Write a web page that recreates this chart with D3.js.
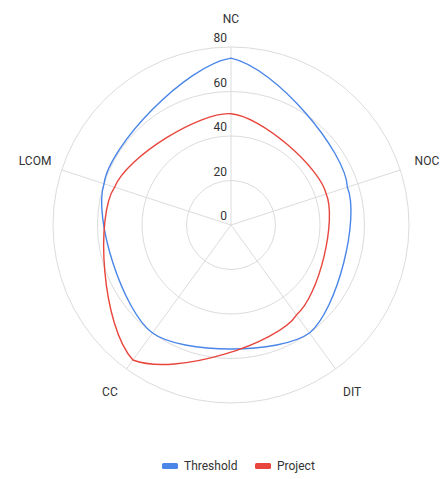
<!DOCTYPE html>
<html>
<head>
<meta charset="utf-8">
<script src="https://cdn.jsdelivr.net/npm/d3@7"></script>
<style>
  html, body { margin: 0; padding: 0; background: #fff; }
  svg { display: block; font-family: Roboto, "Noto Sans", Arial, sans-serif; }
</style>
</head>
<body>
<svg id="chart" width="444" height="479"></svg>
<script>
const axes = ["NC", "NOC", "DIT", "CC", "LCOM"];
const thresholdValues = [75, 55, 60, 60, 60];
const projectValues = [50, 45, 50, 75, 55];
const seriesNames = ["Threshold", "Project"];
const seriesColors = ["#4a86e8", "#e8453c"];
const tickValues = [0, 20, 40, 60, 80];

const W = 444, H = 479;
const cx = 231, cy = 225, R = 178;
const svg = d3.select("#chart");
const g = svg.append("g").attr("transform", `translate(${cx},${cy})`);

const r = d3.scaleLinear().domain([0, 80]).range([0, R]);
const angle = d3.scaleLinear().domain([0, axes.length]).range([-Math.PI / 2, 1.5 * Math.PI]);

// grid rings
g.selectAll("circle.ring").data(tickValues.filter(d => d > 0)).join("circle")
  .attr("class", "ring")
  .attr("r", d => r(d))
  .attr("fill", "none")
  .attr("stroke", "#dcdcdc")
  .attr("stroke-width", 1);

// spokes
g.selectAll("line.spoke").data(axes).join("line")
  .attr("class", "spoke")
  .attr("x1", 0).attr("y1", 0)
  .attr("x2", (d, i) => r(80) * Math.cos(angle(i)))
  .attr("y2", (d, i) => r(80) * Math.sin(angle(i)))
  .attr("stroke", "#dcdcdc")
  .attr("stroke-width", 1);

// axis names
g.selectAll("text.axisName").data(axes).join("text")
  .attr("class", "axisName")
  .attr("x", (d, i) => (R + 28) * Math.cos(angle(i)))
  .attr("y", (d, i) => (R + 28) * Math.sin(angle(i)))
  .attr("text-anchor", "middle")
  .attr("dominant-baseline", "central")
  .attr("font-size", 12)
  .attr("fill", "#333")
  .text(d => d);

// series paths: curved segments between axis points (bulging along the rings)
const bulge = 0.65;
function radarPath(values) {
  const n = values.length;
  const dA = 2 * Math.PI / n;
  const p = d3.path();
  const a0s = angle(0), r0s = r(values[0]);
  p.moveTo(r0s * Math.cos(a0s), r0s * Math.sin(a0s));
  for (let i = 0; i < n; i++) {
    const a0 = angle(i), a1 = angle(i + 1);
    const r0 = r(values[i]), r1 = r(values[(i + 1) % n]);
    const dr = (r1 - r0) / dA;
    const d0 = [dr * Math.cos(a0) - r0 * Math.sin(a0), dr * Math.sin(a0) + r0 * Math.cos(a0)];
    const d1 = [dr * Math.cos(a1) - r1 * Math.sin(a1), dr * Math.sin(a1) + r1 * Math.cos(a1)];
    const P0 = [r0 * Math.cos(a0), r0 * Math.sin(a0)];
    const P1 = [r1 * Math.cos(a1), r1 * Math.sin(a1)];
    const k = bulge * dA / 3;
    p.bezierCurveTo(P0[0] + k * d0[0], P0[1] + k * d0[1],
                    P1[0] - k * d1[0], P1[1] - k * d1[1],
                    P1[0], P1[1]);
  }
  p.closePath();
  return p.toString();
}

const series = [thresholdValues, projectValues];
g.selectAll("path.series").data(series).join("path")
  .attr("class", "series")
  .attr("d", d => radarPath(d))
  .attr("fill", "none")
  .attr("stroke", (d, i) => seriesColors[i])
  .attr("stroke-width", 1.4);

// tick labels
g.selectAll("text.tick").data(tickValues).join("text")
  .attr("class", "tick")
  .attr("x", -4)
  .attr("y", d => -r(d) - 5)
  .attr("text-anchor", "end")
  .attr("font-size", 12)
  .attr("fill", "#333")
  .text(d => d);

// legend
const legend = svg.append("g").attr("transform", `translate(0,466)`);
const items = [{x: 162, tx: 184}, {x: 255, tx: 277}];
seriesNames.forEach((name, i) => {
  legend.append("rect")
    .attr("x", items[i].x).attr("y", -3)
    .attr("width", 16).attr("height", 6).attr("rx", 1.5)
    .attr("fill", seriesColors[i]);
  legend.append("text")
    .attr("x", items[i].tx).attr("y", 0)
    .attr("dominant-baseline", "central")
    .attr("font-size", 12)
    .attr("fill", "#333")
    .text(name);
});
</script>
</body>
</html>
